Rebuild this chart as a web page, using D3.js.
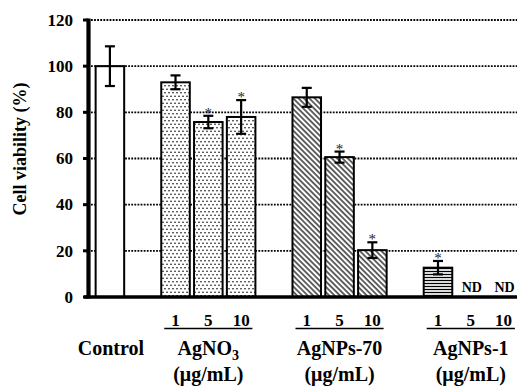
<!DOCTYPE html>
<html>
<head>
<meta charset="utf-8">
<script src="https://cdn.jsdelivr.net/npm/d3@7"></script>
<style>
  body { margin: 0; background: #fff; }
</style>
</head>
<body>
<svg id="chart" width="517" height="387"></svg>
<script>
// bar keys, in drawing order
var barKeys = ["Control", "AgNO3-1", "AgNO3-5", "AgNO3-10",
    "AgNPs70-1", "AgNPs70-5", "AgNPs70-10",
    "AgNPs1-1", "AgNPs1-5", "AgNPs1-10"];
var barFills = ["none", "dots", "dots", "dots",
    "hatch", "hatch", "hatch",
    "lines", "lines", "lines"];
// cell viability (%) and error (+/-)
var viability = [100, 93, 75.8, 78, 86.5, 60.6, 20.3, 12.7, 0, 0];
var errors = [8.6, 3, 2.7, 7.3, 4.1, 2.4, 3.4, 2.9, 0, 0];
var starred = [false, false, true, true, false, true, true, true, false, false];
var notDetected = [false, false, false, false, false, false, false, false, true, true];

// the x slots, gaps between groups included
var slots = ["Control", "gap1", "AgNO3-1", "AgNO3-5", "AgNO3-10", "gap2",
    "AgNPs70-1", "AgNPs70-5", "AgNPs70-10", "gap3",
    "AgNPs1-1", "AgNPs1-5", "AgNPs1-10"];

var doseLabels = ["1", "5", "10"];
var groupNames = ["AgNO3", "AgNPs-70", "AgNPs-1"];
var groupFirst = ["AgNO3-1", "AgNPs70-1", "AgNPs1-1"];
var groupLast = ["AgNO3-10", "AgNPs70-10", "AgNPs1-10"];
var yTicks = [0, 20, 40, 60, 80, 100, 120];

var FONT = 'Liberation Serif, DejaVu Serif, serif';

var svg = d3.select('#chart');

function label(x0, y0, size, str) {
    return svg.append('text')
        .attr('x', x0)
        .attr('y', y0)
        .attr('text-anchor', 'middle')
        .style('font-family', FONT)
        .style('font-weight', 'bold')
        .style('font-size', size + 'px')
        .style('fill', '#000')
        .text(str);
}

var x = d3.scaleBand()
    .domain(slots)
    .range([93.5, 520])
    .paddingInner(0.13)
    .paddingOuter(0.065);

var y = d3.scaleLinear()
    .domain([0, 120])
    .range([297, 20]);

var bw = x.bandwidth();

// fill patterns
var defs = svg.append('defs');

var dots = defs.append('pattern')
    .attr('id', 'dots')
    .attr('patternUnits', 'userSpaceOnUse')
    .attr('width', 4)
    .attr('height', 7);
dots.append('rect').attr('width', 4).attr('height', 7).attr('fill', '#fff');
dots.append('circle').attr('cx', 1).attr('cy', 1.75).attr('r', 0.8).attr('fill', '#000');
dots.append('circle').attr('cx', 3).attr('cy', 5.25).attr('r', 0.8).attr('fill', '#000');

var hatch = defs.append('pattern')
    .attr('id', 'hatch')
    .attr('patternUnits', 'userSpaceOnUse')
    .attr('width', 3.8)
    .attr('height', 10)
    .attr('patternTransform', 'rotate(-45)');
hatch.append('rect').attr('width', 3.8).attr('height', 10).attr('fill', '#fff');
hatch.append('line')
    .attr('x1', 1).attr('x2', 1)
    .attr('y1', 0).attr('y2', 10)
    .attr('stroke', '#000')
    .attr('stroke-width', 1.2);

var lines = defs.append('pattern')
    .attr('id', 'lines')
    .attr('patternUnits', 'userSpaceOnUse')
    .attr('width', 10)
    .attr('height', 3);
lines.append('rect').attr('width', 10).attr('height', 3).attr('fill', '#fff');
lines.append('line')
    .attr('x1', 0).attr('x2', 10)
    .attr('y1', 1.5).attr('y2', 1.5)
    .attr('stroke', '#000')
    .attr('stroke-width', 1.3);

// dotted gridlines
svg.append('g')
    .selectAll('line')
    .data(yTicks.filter(function(d) { return d > 0; }))
    .enter()
    .append('line')
    .attr('x1', 91)
    .attr('x2', 517)
    .attr('y1', function(d) { return y(d); })
    .attr('y2', function(d) { return y(d); })
    .attr('stroke', '#000')
    .attr('stroke-width', 1.8)
    .attr('stroke-dasharray', '1.8,1.3');

// bars
var bars = svg.append('g');
barKeys.forEach(function(k, i) {
    if (notDetected[i]) return;
    bars.append('rect')
        .attr('x', x(k))
        .attr('y', y(viability[i]))
        .attr('width', bw)
        .attr('height', y(0) - y(viability[i]))
        .attr('fill', barFills[i] == 'none' ? '#fff' : 'url(#' + barFills[i] + ')')
        .attr('stroke', '#000')
        .attr('stroke-width', 2);
});

// error bars
var err = svg.append('g')
    .attr('stroke', '#000')
    .attr('stroke-width', 2.2);
barKeys.forEach(function(k, i) {
    if (notDetected[i]) return;
    var cx = x(k) + bw / 2;
    var top = y(viability[i] + errors[i]),
        bot = y(viability[i] - errors[i]);
    err.append('line').attr('x1', cx).attr('x2', cx).attr('y1', top).attr('y2', bot);
    err.append('line').attr('x1', cx - 5).attr('x2', cx + 5).attr('y1', top).attr('y2', top);
    err.append('line').attr('x1', cx - 5).attr('x2', cx + 5).attr('y1', bot).attr('y2', bot);
    if (starred[i]) {
        label(cx, top + 2, 15, '*')
            .style('font-weight', 'normal')
            .style('fill', '#222');
    }
});

// ND labels
barKeys.forEach(function(k, i) {
    if (!notDetected[i]) return;
    label(x(k) + bw / 2 + 1, 292, 14, 'ND');
});

// axes
svg.append('line')
    .attr('x1', 84).attr('x2', 517)
    .attr('y1', y(0)).attr('y2', y(0))
    .attr('stroke', '#000')
    .attr('stroke-width', 3.6);

svg.append('line')
    .attr('x1', 88.5).attr('x2', 88.5)
    .attr('y1', y(120) - 1.5).attr('y2', y(0) + 1.5)
    .attr('stroke', '#000')
    .attr('stroke-width', 4.2);

var yAxis = svg.append('g');
yAxis.selectAll('line')
    .data(yTicks)
    .enter()
    .append('line')
    .attr('x1', 83)
    .attr('x2', 88)
    .attr('y1', function(d) { return y(d); })
    .attr('y2', function(d) { return y(d); })
    .attr('stroke', '#000')
    .attr('stroke-width', 3);
yTicks.forEach(function(d) {
    label(73, y(d), 17, d)
        .attr('dy', '0.34em')
        .attr('text-anchor', 'end');
});

label(0, 0, 18, 'Cell viability (%)')
    .attr('transform', 'translate(26,149) rotate(-90)');

// dose labels and underlines
groupFirst.forEach(function(first, g) {
    var x0 = x(first) + 3,
        x1 = x(groupLast[g]) + bw - 3;
    svg.append('line')
        .attr('x1', x0).attr('x2', x1)
        .attr('y1', 328.5).attr('y2', 328.5)
        .attr('stroke', '#000')
        .attr('stroke-width', 1.6);
    var keys = slots.slice(slots.indexOf(first), slots.indexOf(first) + 3);
    keys.forEach(function(k, j) {
        label(x(k) + bw / 2, 326, 17, doseLabels[j]);
    });
    var cx = (x0 + x1) / 2;
    if (groupNames[g] == 'AgNO3') {
        var t = label(cx, 355, 20, 'AgNO');
        t.append('tspan').attr('dy', 5).style('font-size', '14px').text('3');
    } else {
        label(cx, 355, 20, groupNames[g]);
    }
    label(cx, 381, 20, '(\u03bcg/mL)');
});

label(x('Control') + bw / 2 + 1, 355, 20, 'Control');
</script>
</body>
</html>
